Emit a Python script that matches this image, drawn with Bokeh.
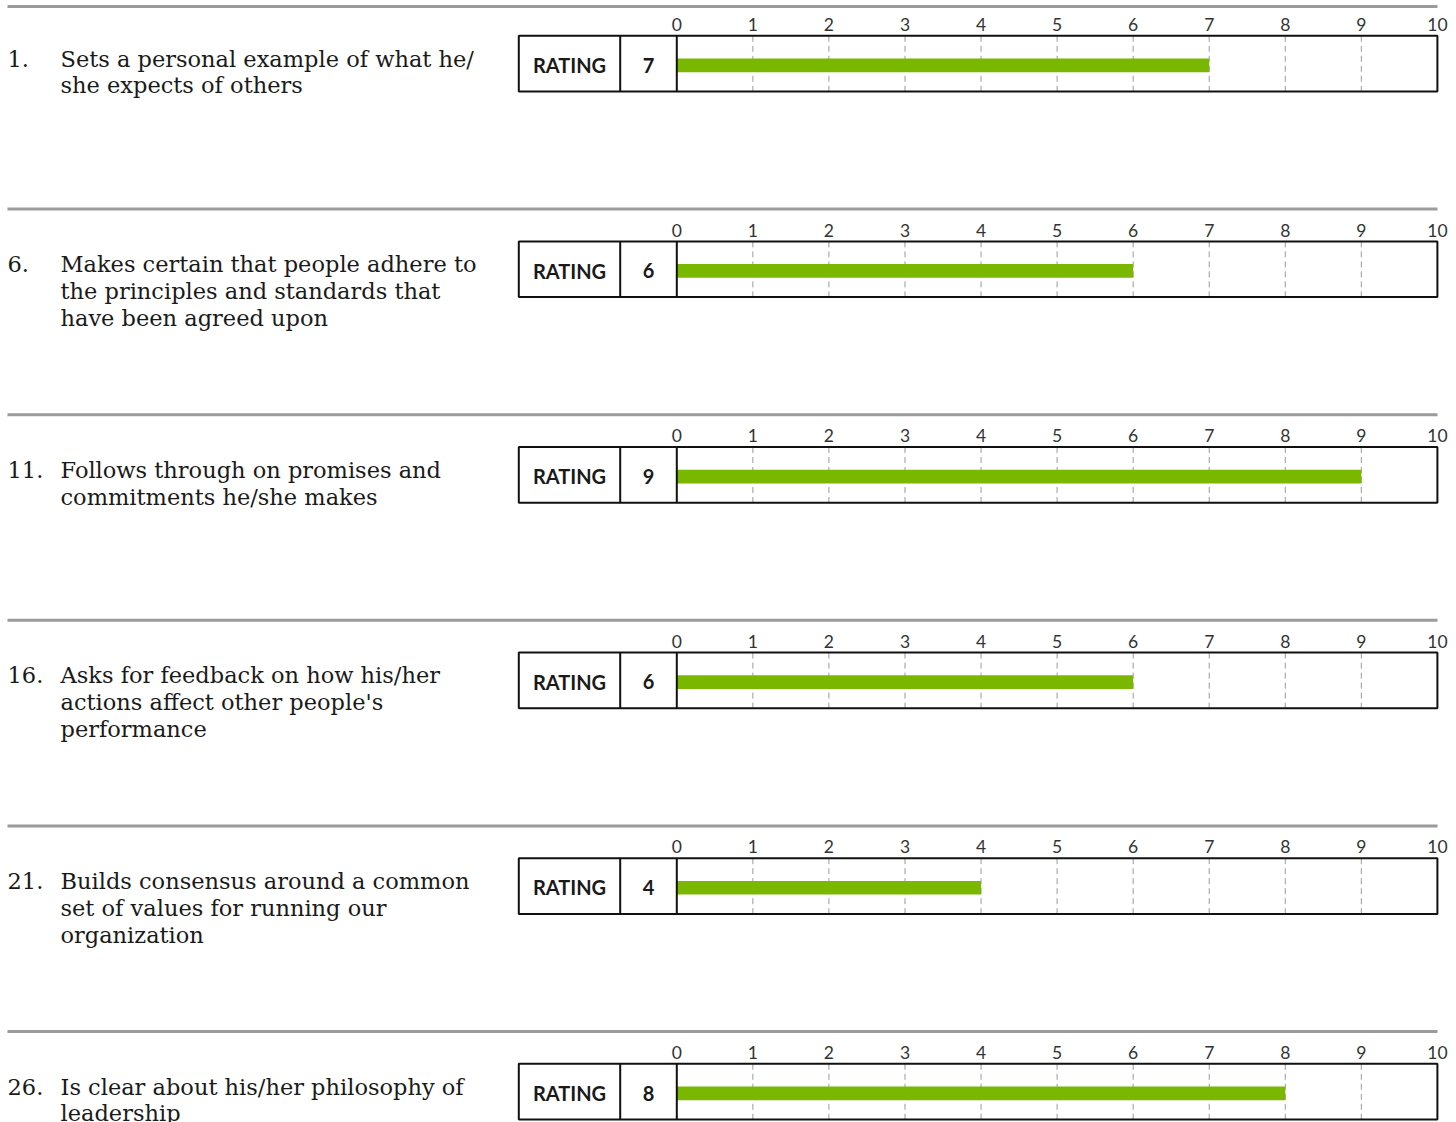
from bokeh.plotting import figure
from bokeh.layouts import column
from bokeh.models import Range1d, FixedTicker
from bokeh.embed import file_html
from bokeh.resources import INLINE
from bokeh.core.properties import value

# ---------------- data ----------------
numbers = ["1.", "6.", "11.", "16.", "21.", "26."]
questions = [
    "Sets a personal example of what he/\nshe expects of others",
    "Makes certain that people adhere to\nthe principles and standards that\nhave been agreed upon",
    "Follows through on promises and\ncommitments he/she makes",
    "Asks for feedback on how his/her\nactions affect other people's\nperformance",
    "Builds consensus around a common\nset of values for running our\norganization",
    "Is clear about his/her philosophy of\nleadership",
]
ratings = [7, 6, 9, 6, 4, 8]
scale_ticks = [0, 1, 2, 3, 4, 5, 6, 7, 8, 9, 10]
scale_labels = ["0", "1", "2", "3", "4", "5", "6", "7", "8", "9", "10"]
rating_label = "RATING"

# ---------------- layout ----------------
W, H = 1456, 1122
X0_PX, PX_PER = 676.3, 76.06      # pixel of value 0, pixels per rating unit


def px2x(px):
    return (px - X0_PX) / PX_PER


ROW_GAP, SEP0 = 205.6, 3.0
seps = [SEP0 + ROW_GAP * i for i in range(len(ratings))]
tops = [round(s + 6) for s in seps]
bottoms = tops[1:] + [H]
AXIS_H = 24

BOX_TOP, BOX_BOT = 32.3, 88.0
BAR_TOP, BAR_BOT = 55.0, 68.7
CELL_L, CELL_M = 518.3, 619.7
TEXT_BASE, LINE_H = 55.0, 26.8
CELL_TEXT_Y = 61.5

SERIF = value("DejaVu Serif")
SANS = value("Lato")
GREEN = "#7ab800"
SEP_COLOR = "#9b9b9b"
INK = "#1a1a1a"


def base_fig(height, y_range, with_axis):
    p = figure(
        width=W, height=height,
        x_range=Range1d(px2x(0), px2x(W)), y_range=y_range,
        output_backend="svg", toolbar_location=None,
        x_axis_location="above" if with_axis else None, y_axis_location=None,
        min_border_left=0, min_border_right=0, min_border_bottom=0,
        min_border_top=AXIS_H if with_axis else 0, outline_line_color=None,
        background_fill_color="white", border_fill_color="white",
        margin=0,
    )
    p.xgrid.visible = False
    p.ygrid.visible = False
    return p


# top rule strip (separator above the first row)
strip = base_fig(tops[0], Range1d(tops[0], 0), False)
strip.segment(x0=[px2x(7)], x1=[px2x(1437)], y0=[SEP0], y1=[SEP0],
              line_color=SEP_COLOR, line_width=3)

figs = [strip]
for i, (num, q, r) in enumerate(zip(numbers, questions, ratings)):
    sep, top, bot = seps[i], tops[i], bottoms[i]
    p = base_fig(bot - top, Range1d(bot - sep, top + AXIS_H - sep), True)
    ax = p.xaxis[0]
    ax.ticker = FixedTicker(ticks=scale_ticks)
    ax.major_label_overrides = {t: l for t, l in zip(scale_ticks, scale_labels)}
    ax.axis_line_color = None
    ax.major_tick_line_color = None
    ax.minor_tick_line_color = None
    ax.major_tick_out = 0
    ax.major_tick_in = 0
    ax.major_label_standoff = 3
    ax.major_label_text_font = "Lato"
    ax.major_label_text_font_size = "17.5px"
    ax.major_label_text_color = "#333333"

    # dashed grid inside the bar area
    inner = scale_ticks[1:-1]
    p.segment(x0=inner, x1=inner, y0=[BOX_TOP] * len(inner), y1=[BOX_BOT] * len(inner),
              line_color="#9a9a9a", line_width=1, line_dash="6 4")
    # rating bar
    p.quad(left=[scale_ticks[0]], right=[r], top=[BAR_TOP], bottom=[BAR_BOT],
           fill_color=GREEN, line_color=None)
    # box outline and cell dividers
    p.quad(left=[px2x(CELL_L)], right=[scale_ticks[-1]], top=[BOX_TOP], bottom=[BOX_BOT],
           fill_color=None, line_color="#111111", line_width=2)
    p.segment(x0=[px2x(CELL_M), scale_ticks[0]], x1=[px2x(CELL_M), scale_ticks[0]],
              y0=[BOX_TOP, BOX_TOP], y1=[BOX_BOT, BOX_BOT],
              line_color="#111111", line_width=2)
    # cell texts
    p.text(x=[px2x((CELL_L + CELL_M) / 2), px2x((CELL_M + X0_PX) / 2)],
           y=[CELL_TEXT_Y, CELL_TEXT_Y],
           text=[rating_label, str(r)], text_align="center", text_baseline="alphabetic",
           text_font=SANS, text_font_style="bold", text_font_size="20px", text_color=INK)
    # question number and text
    p.text(x=[px2x(7)], y=[TEXT_BASE], text=[num], text_align="left",
           text_baseline="alphabetic", text_font=SERIF, text_font_size="22.5px", text_color=INK)
    lines = q.split("\n")
    p.text(x=[px2x(60)] * len(lines), y=[TEXT_BASE + k * LINE_H for k in range(len(lines))],
           text=lines, text_align="left", text_baseline="alphabetic",
           text_font=SERIF, text_font_size="22.5px", text_color=INK)
    # separator to next row
    if i + 1 < len(seps):
        ys = seps[i + 1] - sep
        p.segment(x0=[px2x(7)], x1=[px2x(1437)], y0=[ys], y1=[ys],
                  line_color=SEP_COLOR, line_width=3)
    figs.append(p)

layout = column(*figs, spacing=0, margin=0)
open("out.html", "w").write(file_html(layout, INLINE))
